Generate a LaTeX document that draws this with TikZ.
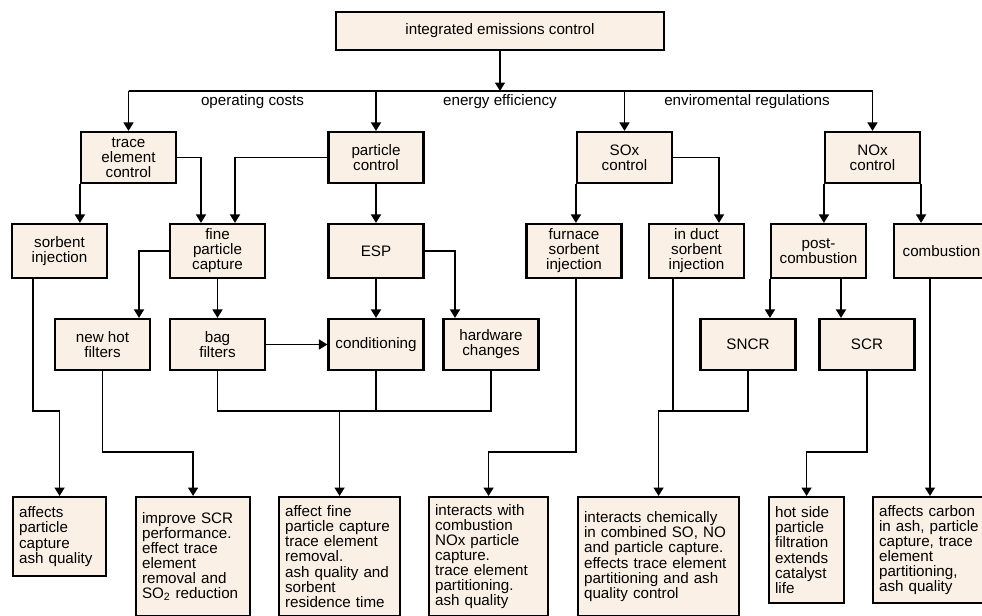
\documentclass[tikz,border=0pt]{standalone}
\usepackage{fontspec}
\setmainfont{Liberation Sans}
\usepackage{xcolor}
\usepackage{tikz}
\usetikzlibrary{arrows.meta}
\definecolor{boxfill}{RGB}{251,240,229}

\begin{document}
\begin{tikzpicture}[x=0.025cm, y=-0.025cm]
\tikzstyle{every node}=[font=\fontsize{10.8}{10.7}\selectfont]
\tikzstyle{box}=[draw, line width=1.5pt, fill=boxfill, align=center, inner sep=1pt]
\tikzstyle{lvbox}=[box, minimum width=2.375cm, minimum height=1.275cm]
\tikzstyle{midbox}=[box, minimum width=2.375cm, minimum height=1.35cm]
\tikzstyle{endbox}=[box, anchor=north west, align=left, inner xsep=0.15cm]
\tikzstyle{arr}=[->, >={Triangle[length=6pt, width=7pt]}, line width=1.3pt]
\tikzstyle{wire}=[line width=1.3pt]
\useasboundingbox (0,0) rectangle (982,616);
\clip (0,0) rectangle (982,616);
% top and bus
\node[box, minimum width=8.2cm, minimum height=0.95cm] (top) at (500,31) {integrated emissions control};
\coordinate (bus) at (500,91);
\coordinate (m1) at (0,411);
\coordinate (m2) at (0,452);
\node (opcost) at (252.5,102) {operating costs};
\node (energy) at (500,102) {energy efficiency};
\node (enviro) at (747,102) {enviromental regulations};
% first row
\node[lvbox] (trace) at (128.5,157.5) {trace\\element\\control};
\node[lvbox] (partc) at (376,157.5) {particle\\control};
\node[lvbox] (sox) at (624.5,157.5) {SOx\\control};
\node[lvbox] (nox) at (872.5,157.5) {NOx\\control};
% second row
\node[midbox] (sorbent) at (59.5,251) {sorbent\\injection};
\node[midbox] (fine) at (217.5,251) {fine\\particle\\capture};
\node[midbox] (esp) at (376,251) {ESP};
\node[midbox] (furnace) at (574,251) {furnace\\sorbent\\injection};
\node[midbox] (induct) at (696.5,251) {in duct\\sorbent\\injection};
\node[midbox] (post) at (818.5,251) {post-\\combustion};
\node[midbox] (comb) at (941.5,251) {combustion};
% third row
\node[lvbox] (hot) at (102.5,344.5) {new hot\\filters};
\node[lvbox] (bag) at (217.5,344.5) {bag\\filters};
\node[lvbox] (cond) at (376,344.5) {conditioning};
\node[lvbox] (hw) at (491,344.5) {hardware\\changes};
\node[lvbox] (sncr) at (748,344.5) {SNCR};
\node[lvbox] (scr) at (867,344.5) {SCR};
% effects
\node[endbox, text width=2.025cm, minimum height=1.975cm] (eff1) at (12,496) {affects\\particle\\capture\\ash quality};
\node[endbox, text width=2.55cm, minimum height=2.975cm] (eff2) at (135,496) {improve SCR\\performance.\\effect trace\\element\\removal and\\SO\textsubscript{2} reduction};
\node[endbox, text width=2.725cm, minimum height=2.975cm] (eff3) at (278,496) {affect fine\\particle capture\\trace element\\removal.\\ash quality and\\sorbent\\residence time};
\node[endbox, text width=2.675cm, minimum height=2.975cm] (eff4) at (428,496) {interacts with\\combustion\\NOx particle\\capture.\\trace element\\partitioning.\\ash quality};
\node[endbox, text width=3.725cm, minimum height=2.975cm] (eff5) at (577,496) {interacts chemically\\in combined SO, NO\\and particle capture.\\effects trace element\\partitioning and ash\\quality control};
\node[endbox, text width=1.575cm, minimum height=2.65cm] (eff6) at (768,496) {hot side\\particle\\filtration\\extends\\catalyst\\life};
\node[endbox, text width=2.65cm, minimum height=2.65cm] (eff7) at (872,496) {affects carbon\\in ash, particle\\capture, trace\\element\\partitioning,\\ash quality};
% connectors from the top
\draw[arr] (top.south) -- (bus);
\draw[wire] (trace.north |- bus) -- (nox.north |- bus);
\foreach \n in {trace,partc,sox,nox}
  \draw[arr] (\n.north |- bus) -- (\n.north);
\draw[arr] (trace.south west) -- (trace.south west |- sorbent.north);
\draw[arr] (trace.east) -| ([xshift=-0.4125cm]fine.north);
\draw[arr] (partc.west) -| ([xshift=0.4375cm]fine.north);
\draw[arr] (partc.south) -- (esp.north);
\draw[arr] (sox.south west) -- (sox.south west |- furnace.north);
\draw[arr] (sox.east) -| ([xshift=0.5625cm]induct.north);
\draw[arr] (nox.south west) -- (nox.south west |- post.north);
\draw[arr] (nox.south east) -- (nox.south east |- comb.north);
\draw[arr] (fine.west) -| ([xshift=0.9125cm]hot.north);
\draw[arr] (fine.south) -- (bag.north);
\draw[arr] (esp.south) -- (cond.north);
\draw[arr] (esp.east) -| ([xshift=-0.9cm]hw.north);
\draw[arr] (bag.east) -- (cond.west);
\draw[arr] (post.south west) -- (post.south west |- sncr.north);
\draw[arr] ([xshift=0.5625cm]post.south) -- ([xshift=0.5625cm]post.south |- scr.north);
% connectors to the effects
\draw[arr] ([xshift=-0.6625cm]sorbent.south) |- (eff1.north |- m1) -- (eff1.north);
\draw[arr] (hot.south) |- (eff2.north |- m2) -- (eff2.north);
\draw[wire] (bag.south) |- (hw.south |- m1) -- (hw.south);
\draw[wire] (cond.south) -- (cond.south |- m1);
\draw[arr] (eff3.north |- m1) -- (eff3.north);
\draw[arr] (sox.south west |- furnace.south) |- (eff4.north |- m2) -- (eff4.north);
\draw[wire] (sox.south east |- induct.south) -- (sox.south east |- m1);
\draw[arr] (sncr.south) |- (eff5.north |- m1) -- (eff5.north);
\draw[arr] (scr.south) |- (eff6.north |- m2) -- (eff6.north);
\draw[arr] ([xshift=-0.2875cm]comb.south) -- ([xshift=-0.2875cm]comb.south |- eff7.north);
\end{tikzpicture}
\end{document}
